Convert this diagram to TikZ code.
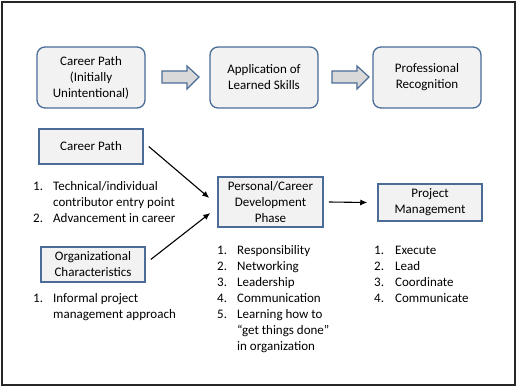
\documentclass[tikz,border=0pt]{standalone}
\usepackage{fontspec}
\setmainfont{Carlito}
\usetikzlibrary{calc,arrows.meta}
\definecolor{bord}{HTML}{4A6C96}
\definecolor{boxfill}{HTML}{F2F2F2}
\definecolor{arrfill}{HTML}{D9D9D9}
\begin{document}
\begin{tikzpicture}[x=1pt,y=-1pt,
  txt/.style={font=\fontsize{13}{16}\selectfont},
  topbox/.style={draw=bord,fill=boxfill,line width=1.3pt,rounded corners=8pt,align=center,inner sep=0pt,txt},
  sqbox/.style={draw=bord,fill=boxfill,line width=1.5pt,align=center,inner sep=0pt,txt},
  lt/.style={txt,anchor=base west,inner sep=0pt},
  blockarr/.style={draw=bord,fill=arrfill,line width=1.2pt,line join=miter},
  conn/.style={draw=black,line width=1.1pt,-{Latex[length=7pt,width=6pt]}}]
\useasboundingbox (0,0) rectangle (518,387);
\draw[line width=1.5pt,draw=black!85] (2,2) rectangle (515,385);
% top row
\node[topbox,minimum width=108pt,minimum height=61pt] (t1) at (91,77.5) {Career Path\\(Initially\\Unintentional)};
\node[topbox,minimum width=108pt,minimum height=61pt] (t2) at (264,77.5) {Application of\\Learned Skills};
\node[topbox,minimum width=108pt,minimum height=61pt] (t3) at (427,77.5) {Professional\\Recognition};
% block arrows
\draw[blockarr] (162,71) -- (187,71) -- (187,66) -- (199,77) -- (187,89) -- (187,83) -- (162,83) -- cycle;
\draw[blockarr] (332,71) -- (357,71) -- (357,66) -- (369,77) -- (357,89) -- (357,83) -- (332,83) -- cycle;
% second row boxes
\node[sqbox,minimum width=104pt,minimum height=35pt] (cp) at (91,146.5) {Career Path};
\node[sqbox,minimum width=104pt,minimum height=35pt] (oc) at (93,264.5) {Organizational\\Characteristics};
\node[sqbox,minimum width=105pt,minimum height=50pt] (pc) at (270.5,202) {Personal/Career\\Development\\Phase};
\node[sqbox,minimum width=104pt,minimum height=37pt] (pm) at (430,202.5) {Project\\Management};
% connectors
\draw[conn] ($(cp.east)+(5,0)$) -- ($(pc.west)+(-8,-4)$);
\draw[conn] ($(oc.east)+(5,-5)$) -- ($(pc.west)+(-7,11)$);
\draw[conn] ($(pc.east)+(5,0)$) -- ($(pm.west)+(-10,0)$);
% career path list
\node[lt] (a1n) at (33,190) {1.};
\node[lt] (a1) at (53,190) {Technical/individual};
\node[lt] (a1b) at (53,206) {contributor entry point};
\node[lt] (a2n) at (33,222) {2.};
\node[lt] (a2) at (53,222) {Advancement in career};
% org list
\node[lt] (b1n) at (33,302) {1.};
\node[lt] (b1) at (53,302) {Informal project};
\node[lt] (b1b) at (53,318) {management approach};
% personal list
\node[lt] (c1n) at (217,254) {1.};
\node[lt] (c1) at (237,254) {Responsibility};
\node[lt] (c2n) at (217,270) {2.};
\node[lt] (c2) at (237,270) {Networking};
\node[lt] (c3n) at (217,286) {3.};
\node[lt] (c3) at (237,286) {Leadership};
\node[lt] (c4n) at (217,302) {4.};
\node[lt] (c4) at (237,302) {Communication};
\node[lt] (c5n) at (217,318) {5.};
\node[lt] (c5) at (237,318) {Learning how to};
\node[lt] (c5b) at (237,334) {“get things done”};
\node[lt] (c5c) at (237,350) {in organization};
% project list
\node[lt] (d1n) at (374,254) {1.};
\node[lt] (d1) at (395,254) {Execute};
\node[lt] (d2n) at (374,270) {2.};
\node[lt] (d2) at (395,270) {Lead};
\node[lt] (d3n) at (374,286) {3.};
\node[lt] (d3) at (395,286) {Coordinate};
\node[lt] (d4n) at (374,302) {4.};
\node[lt] (d4) at (395,302) {Communicate};
\end{tikzpicture}
\end{document}
